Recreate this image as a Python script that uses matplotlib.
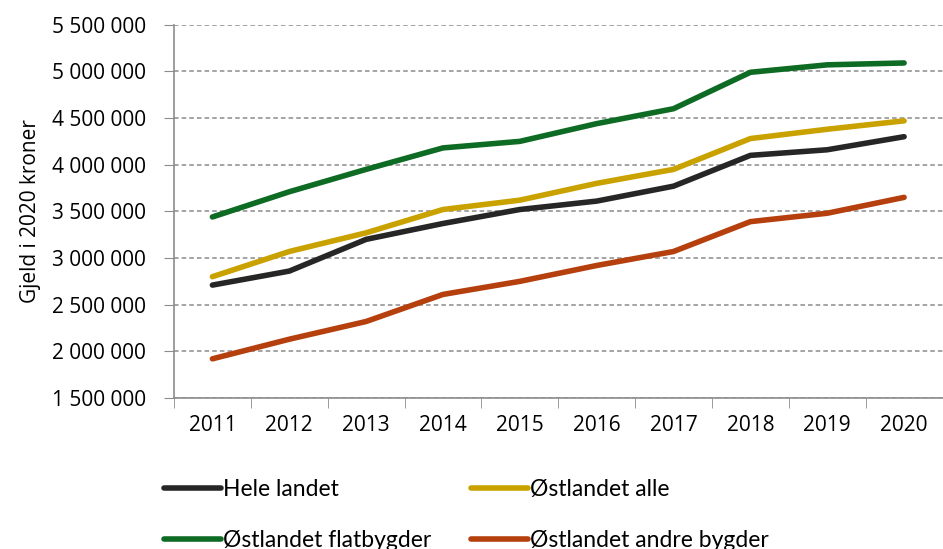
import matplotlib
matplotlib.use("Agg")
import matplotlib.pyplot as plt
from matplotlib.ticker import FuncFormatter, FixedLocator

plt.rcParams['font.family'] = ['Open Sans', 'DejaVu Sans']

years = ['2011', '2012', '2013', '2014', '2015', '2016', '2017', '2018', '2019', '2020']
hele_landet = [2710000, 2860000, 3200000, 3370000, 3520000, 3610000, 3770000, 4100000, 4160000, 4300000]
ostlandet_alle = [2800000, 3070000, 3270000, 3520000, 3620000, 3800000, 3950000, 4280000, 4380000, 4470000]
ostlandet_flat = [3440000, 3710000, 3950000, 4180000, 4250000, 4440000, 4600000, 4990000, 5070000, 5090000]
ostlandet_andre = [1920000, 2130000, 2320000, 2610000, 2750000, 2920000, 3070000, 3390000, 3480000, 3650000]

series = [
    ('Hele landet', hele_landet, '#262626'),
    ('Østlandet alle', ostlandet_alle, '#c9a200'),
    ('Østlandet flatbygder', ostlandet_flat, '#0e6b24'),
    ('Østlandet andre bygder', ostlandet_andre, '#b5400e'),
]

fs = 15

fig = plt.figure(figsize=(9.43, 5.49), dpi=100)
ax = fig.add_axes([0.1845, 0.275, 0.815, 0.68])

x = list(range(len(years)))
handles = []
for name, vals, col in series:
    h, = ax.plot(x, vals, color=col, lw=4, solid_capstyle='round', label=name)
    handles.append(h)

ax.set_xlim(-0.5, len(years) - 0.5)
ax.set_ylim(1500000, 5500000)
ax.set_yticks(range(1500000, 5500001, 500000))
ax.yaxis.set_major_formatter(FuncFormatter(lambda v, p: f"{int(v):,}".replace(',', ' ')))
ax.set_xticks(x)
ax.set_xticklabels(years)
ax.xaxis.set_minor_locator(FixedLocator([i - 0.5 for i in range(len(years) + 1)]))
ax.tick_params(axis='x', which='major', length=0, pad=12, labelsize=fs)
ax.tick_params(axis='x', which='minor', length=7, color='#8c8c8c', direction='out')
ax.tick_params(axis='y', length=7, color='#8c8c8c', labelsize=fs, pad=13)

ax.grid(axis='y', ls=(0, (3, 2)), color='#8c8c8c', lw=1.1)
ax.set_axisbelow(True)
for s in ['top', 'right']:
    ax.spines[s].set_visible(False)
for s in ['left', 'bottom']:
    ax.spines[s].set_color('#8c8c8c')
    ax.spines[s].set_linewidth(1.2)

ax.set_ylabel('Gjeld i 2020 kroner', fontsize=fs, labelpad=8)

# row-major order like the original legend
order = [0, 2, 1, 3]
fig.legend(handles=[handles[i] for i in order], loc='upper left', bbox_to_anchor=(0.164, 0.145), ncol=2,
           frameon=False, prop={'family': ['Lato', 'DejaVu Sans'], 'size': 16.5},
           handlelength=2.5, handletextpad=0.1,
           columnspacing=1.7, labelspacing=1.35, borderaxespad=0)

fig.savefig('out.png', dpi=100)
